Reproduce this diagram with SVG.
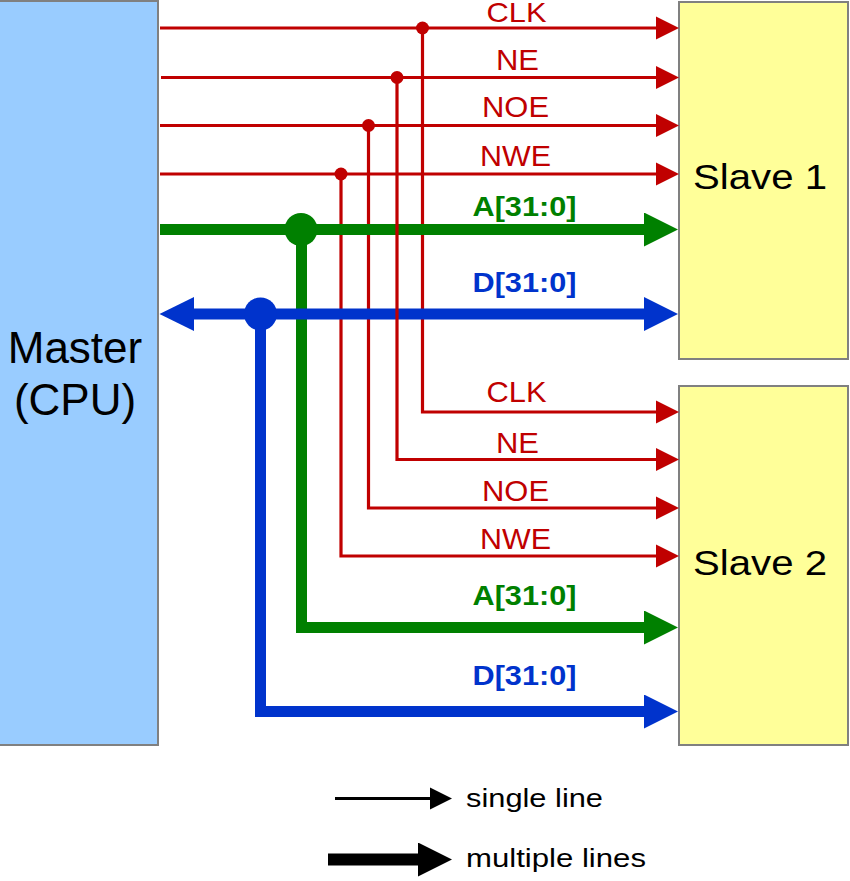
<svg xmlns="http://www.w3.org/2000/svg" width="850" height="881" viewBox="0 0 850 881">
<style>
.box{stroke:#808080;stroke-width:2}
.t{font-family:"Liberation Sans",Arial,sans-serif}
.r{fill:#C00000;font-size:29px}
.b{font-weight:bold;font-size:27px}
.red{stroke:#C00000;stroke-width:3.2;fill:none}
.grn{stroke:#008000;stroke-width:11;fill:none;stroke-linejoin:miter}
.blu{stroke:#0033CC;stroke-width:11;fill:none;stroke-linejoin:miter}
</style>
<defs>
<marker id="ar" markerUnits="userSpaceOnUse" markerWidth="24" markerHeight="24" refX="0" refY="12" orient="auto" viewBox="0 0 24 24"><path d="M0,0.5 L23,12 L0,23.5 Z" fill="#C00000"/></marker>
<marker id="ag" markerUnits="userSpaceOnUse" markerWidth="34" markerHeight="34" refX="0" refY="17" orient="auto" viewBox="0 0 34 34"><path d="M0,0 L34,17 L0,34 Z" fill="#008000"/></marker>
<marker id="ab" markerUnits="userSpaceOnUse" markerWidth="34" markerHeight="34" refX="0" refY="17" orient="auto" viewBox="0 0 34 34"><path d="M0,0 L34,17 L0,34 Z" fill="#0033CC"/></marker>
<marker id="ak" markerUnits="userSpaceOnUse" markerWidth="23" markerHeight="23" refX="0" refY="11.5" orient="auto" viewBox="0 0 23 23"><path d="M0,0.5 L22,11.5 L0,22.5 Z" fill="#000"/></marker>
<marker id="akk" markerUnits="userSpaceOnUse" markerWidth="34" markerHeight="34" refX="0" refY="17" orient="auto" viewBox="0 0 34 34"><path d="M0,0 L34,17 L0,34 Z" fill="#000"/></marker>
</defs>

<g id="master">
<rect class="box" x="-2" y="1" width="160" height="744" fill="#99CCFF"/>
<text class="t" x="75" y="363" font-size="44" text-anchor="middle">Master</text>
<text class="t" x="75" y="415" font-size="44" text-anchor="middle">(CPU)</text>
</g>
<g id="slave1">
<rect class="box" x="679" y="2" width="169" height="357" fill="#FFFF99"/>
<text class="t" x="760" y="189" font-size="35" text-anchor="middle" textLength="134" lengthAdjust="spacingAndGlyphs">Slave 1</text>
</g>
<g id="slave2">
<rect class="box" x="679" y="386" width="169" height="359" fill="#FFFF99"/>
<text class="t" x="760" y="575" font-size="35" text-anchor="middle" textLength="134" lengthAdjust="spacingAndGlyphs">Slave 2</text>
</g>

<g id="connectors">
<line class="red" x1="160" y1="28" x2="656" y2="28" marker-end="url(#ar)"/>
<line class="red" x1="161" y1="77.5" x2="656" y2="77.5" marker-end="url(#ar)"/>
<line class="red" x1="160" y1="125.5" x2="656" y2="125.5" marker-end="url(#ar)"/>
<line class="red" x1="160" y1="174" x2="656" y2="174" marker-end="url(#ar)"/>
<path class="red" d="M422.5,28 V412 H656" marker-end="url(#ar)"/>
<path class="red" d="M368.5,125.5 V508 H656" marker-end="url(#ar)"/>
<path class="red" d="M341,174 V556 H656" marker-end="url(#ar)"/>
<path class="grn" d="M301.5,229.5 V627.5 H644" marker-end="url(#ag)"/>
<line class="grn" x1="160" y1="229.5" x2="644" y2="229.5" marker-end="url(#ag)"/>
<path class="blu" d="M260.5,314 V711.5 H644" marker-end="url(#ab)"/>
<line class="blu" x1="194" y1="314" x2="644" y2="314" marker-end="url(#ab)"/>
<path d="M159.5,314 L194,297 L194,331 Z" fill="#0033CC"/>
<path class="red" d="M397,77.5 V459.5 H656" marker-end="url(#ar)"/>
<circle cx="422.5" cy="28" r="6.5" fill="#C00000"/>
<circle cx="397" cy="77.5" r="6.5" fill="#C00000"/>
<circle cx="368.5" cy="125.5" r="6.5" fill="#C00000"/>
<circle cx="341" cy="174" r="6.5" fill="#C00000"/>
<circle cx="301" cy="229.5" r="16.5" fill="#008000"/>
<circle cx="260.5" cy="314" r="16.5" fill="#0033CC"/>
</g>

<g id="labels">
<text class="t r" x="516.5" y="22" font-size="28" text-anchor="middle" textLength="60" lengthAdjust="spacingAndGlyphs" style="font-size:28px">CLK</text>
<text class="t r" x="517.5" y="70" text-anchor="middle" textLength="43" lengthAdjust="spacingAndGlyphs">NE</text>
<text class="t r" x="515.5" y="117" text-anchor="middle" textLength="67" lengthAdjust="spacingAndGlyphs">NOE</text>
<text class="t r" x="515.5" y="166" text-anchor="middle" textLength="71" lengthAdjust="spacingAndGlyphs">NWE</text>
<text class="t b" x="524.5" y="216" fill="#008000" text-anchor="middle" textLength="104" lengthAdjust="spacingAndGlyphs">A[31:0]</text>
<text class="t b" x="524.5" y="292" fill="#0033CC" text-anchor="middle" textLength="104" lengthAdjust="spacingAndGlyphs">D[31:0]</text>
<text class="t r" x="516.5" y="402" text-anchor="middle" textLength="60" lengthAdjust="spacingAndGlyphs">CLK</text>
<text class="t r" x="517.5" y="453" text-anchor="middle" textLength="43" lengthAdjust="spacingAndGlyphs">NE</text>
<text class="t r" x="515.5" y="501" text-anchor="middle" textLength="67" lengthAdjust="spacingAndGlyphs">NOE</text>
<text class="t r" x="515.5" y="549" text-anchor="middle" textLength="71" lengthAdjust="spacingAndGlyphs">NWE</text>
<text class="t b" x="524.5" y="605" fill="#008000" text-anchor="middle" textLength="104" lengthAdjust="spacingAndGlyphs">A[31:0]</text>
<text class="t b" x="524.5" y="685" fill="#0033CC" text-anchor="middle" textLength="104" lengthAdjust="spacingAndGlyphs">D[31:0]</text>
</g>

<g id="legend">
<line x1="335" y1="798.5" x2="430" y2="798.5" stroke="#000" stroke-width="3" marker-end="url(#ak)"/>
<text class="t" x="466" y="807" font-size="25" textLength="137" lengthAdjust="spacingAndGlyphs">single line</text>
<line x1="328" y1="859.5" x2="418" y2="859.5" stroke="#000" stroke-width="12" marker-end="url(#akk)"/>
<text class="t" x="466" y="867" font-size="25" textLength="180" lengthAdjust="spacingAndGlyphs">multiple lines</text>
</g>
</svg>
